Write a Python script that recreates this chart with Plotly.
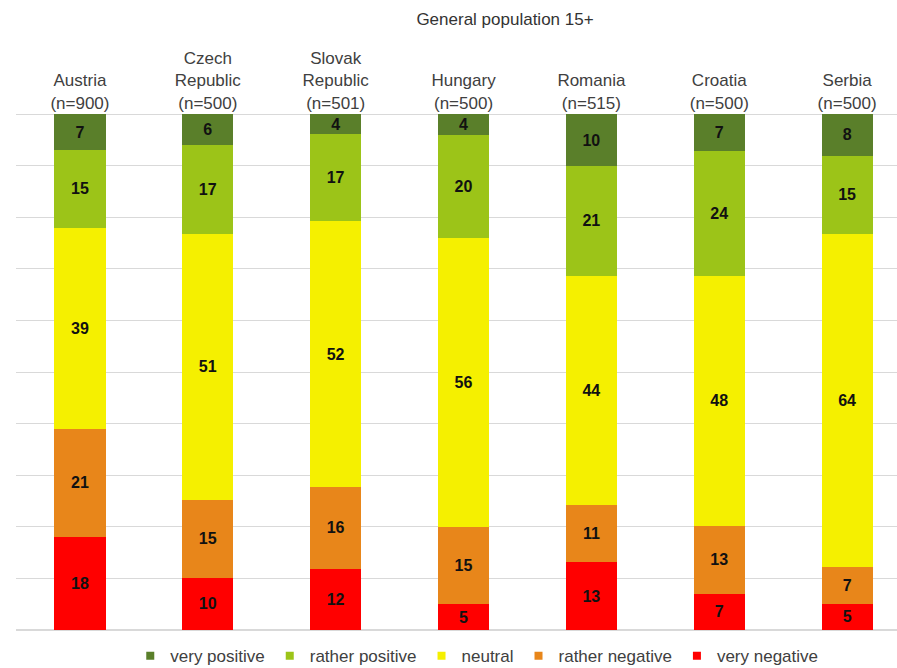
import plotly.graph_objects as go

countries = ["Austria<br>(n=900)", "Czech<br>Republic<br>(n=500)", "Slovak<br>Republic<br>(n=501)",
             "Hungary<br>(n=500)", "Romania<br>(n=515)", "Croatia<br>(n=500)", "Serbia<br>(n=500)"]

very_negative = [18, 10, 12, 5, 13, 7, 5]
rather_negative = [21, 15, 16, 15, 11, 13, 7]
neutral = [39, 51, 52, 56, 44, 48, 64]
rather_positive = [15, 17, 17, 20, 21, 24, 15]
very_positive = [7, 6, 4, 4, 10, 7, 8]

series = [
    ("very negative", very_negative, "#FF0000"),
    ("rather negative", rather_negative, "#E8861A"),
    ("neutral", neutral, "#F5F000"),
    ("rather positive", rather_positive, "#9CC418"),
    ("very positive", very_positive, "#5A7F2A"),
]

FONT = "Arial, Liberation Sans, sans-serif"

fig = go.Figure()
for name, vals, color in series:
    fig.add_trace(go.Bar(
        x=countries, y=vals, name=name, showlegend=False,
        marker=dict(color=color, line=dict(width=0)),
        text=[str(v) for v in vals], textposition="inside",
        insidetextanchor="middle", textangle=0, constraintext="none",
        textfont=dict(family=FONT, size=16, color="#111111"),
        texttemplate="<b>%{text}</b>",
        width=0.4,
    ))

# legend entries with small square swatches
for name, vals, color in series:
    fig.add_trace(go.Scatter(
        x=[None], y=[None], mode="markers", name=name,
        marker=dict(symbol="square", size=8, color=color),
    ))

fig.update_layout(
    barmode="stack",
    barnorm="percent",
    width=897, height=668,
    margin=dict(l=16, r=0, t=113, b=38, autoexpand=False),
    paper_bgcolor="white", plot_bgcolor="white",
    font=dict(family=FONT, size=17, color="#404040"),
    title=dict(text="General population 15+", x=0.563, xanchor="center", y=0.972, yanchor="middle",
               font=dict(size=17, color="#333333")),
    xaxis=dict(side="top", range=[-0.5, 6.39], showgrid=False, showline=False, ticks="",
               tickfont=dict(size=17, color="#404040")),
    yaxis=dict(range=[0, 100.2], dtick=10, showgrid=True, gridcolor="#D9D9D9", gridwidth=1,
               showticklabels=False, zeroline=True, zerolinecolor="#D9D9D9", ticks=""),
    legend=dict(orientation="h", x=0.523, xanchor="center", y=-0.016, yanchor="top",
                traceorder="reversed", font=dict(size=17, color="#404040"),
                itemwidth=30, tracegroupgap=0),
)

fig.write_html("out.html")
